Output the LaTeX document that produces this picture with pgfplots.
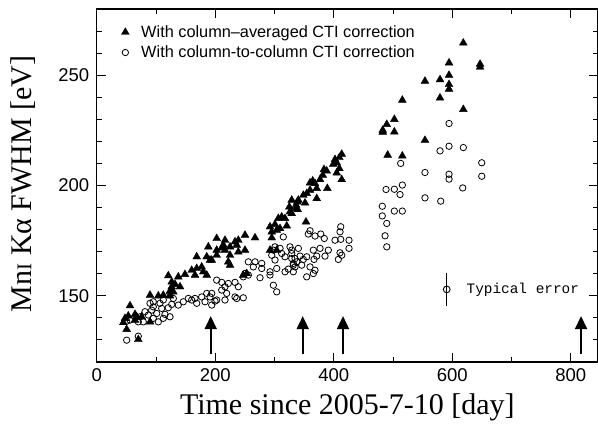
\documentclass[border=0pt]{standalone}
\usepackage{pgfplots}
\pgfplotsset{compat=1.18}
\usepackage{pgfplotstable}
\usetikzlibrary{calc,arrows.meta}
\usepackage{fontspec}
\setmainfont{Liberation Serif}
\newfontfamily\arial{Liberation Sans}
\newfontfamily\mono{Liberation Mono}

\pgfplotstableread{
x y
44.9 137.9
47.8 139.8
50.6 134.8
53.3 140.9
56.2 145.5
64.6 141.6
64.6 139.0
67.5 140.5
70.2 130.2
75.9 140.5
90.0 138.2
90.0 150.3
104.0 150.0
112.4 150.3
120.8 159.1
123.7 150.0
123.7 152.1
126.6 154.1
126.6 156.3
129.3 151.8
132.2 155.2
137.7 158.6
140.6 154.1
149.0 159.7
160.3 161.6
165.9 159.4
168.8 162.4
168.8 167.7
177.2 163.1
179.9 160.9
185.7 159.4
185.7 167.7
188.4 172.2
191.2 166.2
194.1 166.2
202.5 176.0
202.5 170.7
202.5 168.4
211.0 171.7
213.7 173.0
216.5 175.2
216.5 170.7
222.1 165.4
225.0 168.4
225.0 172.2
225.0 163.9
233.4 174.5
236.3 173.0
239.0 175.2
239.0 169.9
247.4 159.4
250.3 177.5
250.3 170.7
253.2 160.1
267.2 176.3
292.5 170.7
292.5 181.3
295.4 176.3
295.4 179.0
300.9 182.4
303.8 170.7
303.8 179.8
306.5 185.1
309.4 180.5
312.2 185.8
317.8 185.1
320.7 181.7
325.1 190.3
326.2 188.1
329.1 187.3
329.1 193.4
336.4 189.6
336.4 191.1
338.6 192.6
339.2 189.1
340.3 193.4
348.7 195.6
351.6 192.1
353.2 183.5
354.4 196.4
360.0 197.9
360.0 201.2
364.6 202.1
368.4 200.9
371.3 198.7
371.3 194.1
376.9 202.7
381.4 204.7
383.6 207.3
388.2 206.6
389.2 198.7
399.3 209.7
402.2 211.8
405.1 210.3
405.1 205.7
409.5 212.7
409.5 207.7
413.5 214.2
413.5 202.7
482.7 225.1
482.7 224.2
489.5 227.7
491.1 213.8
502.3 230.0
502.3 224.3
515.8 238.7
515.8 213.4
554.0 247.3
554.0 220.5
579.4 248.0
579.4 239.7
594.6 255.6
594.6 250.0
594.6 245.8
594.6 243.7
618.7 264.6
618.7 234.5
647.0 255.0
647.0 253.7
}\tri

\pgfplotstableread{
x y
50.6 129.9
70.2 131.7
50.6 138.5
56.2 139.0
70.2 138.2
73.1 140.5
78.6 138.2
81.5 142.8
87.1 141.3
90.0 146.6
95.5 147.3
95.5 145.0
92.8 143.5
95.5 139.8
101.3 142.0
104.0 138.2
106.8 146.6
109.7 144.3
112.4 148.1
112.4 139.8
115.3 141.6
120.8 144.6
123.7 151.1
123.7 140.5
126.6 146.1
129.3 148.8
137.7 145.8
146.2 147.3
154.6 148.8
160.3 148.1
165.9 148.8
168.8 146.6
177.2 149.5
182.8 147.3
185.7 151.1
191.2 149.5
194.1 145.8
194.1 151.1
199.7 147.6
202.5 148.1
202.5 157.1
211.0 156.1
211.0 152.6
216.5 154.1
216.5 148.1
219.4 151.1
222.1 155.6
233.4 156.1
233.4 149.5
236.3 148.8
239.0 154.1
247.4 149.1
247.4 158.6
250.3 160.1
255.9 159.4
255.9 165.4
264.3 163.1
267.2 165.4
275.6 158.2
278.5 164.7
278.5 162.4
292.5 160.9
292.5 159.4
295.4 168.4
298.1 170.7
298.1 154.8
300.9 172.2
300.9 166.2
303.8 162.4
303.8 151.8
309.4 171.5
312.2 169.2
314.9 176.7
317.8 167.7
317.8 160.9
323.4 162.1
326.2 172.2
329.1 169.2
329.1 170.7
329.1 166.9
331.8 164.7
331.8 160.9
331.8 163.9
334.7 166.9
334.7 163.1
337.6 165.4
340.3 171.5
343.1 168.0
346.0 163.9
348.7 166.5
354.4 167.7
354.4 158.6
357.1 178.0
360.0 179.5
360.0 163.1
365.6 170.7
365.6 160.1
366.8 166.5
368.4 177.1
368.4 161.6
371.3 168.0
376.9 171.5
378.1 178.0
384.1 176.0
385.3 168.0
390.9 170.7
402.2 175.2
407.8 166.5
410.6 179.0
410.6 169.5
411.8 181.3
411.8 175.6
413.5 168.4
425.8 175.2
425.8 171.5
482.0 190.6
482.0 186.2
486.6 177.2
488.3 198.2
489.5 182.8
489.5 172.2
502.3 198.3
502.3 188.4
511.9 195.9
513.0 210.0
515.8 200.2
515.8 188.4
554.0 205.9
554.0 194.4
579.4 215.7
580.6 192.9
594.6 228.1
594.6 217.8
594.6 205.1
594.6 202.9
617.7 198.9
618.7 217.2
649.8 210.3
649.8 204.2
}\circ

\begin{document}
\begin{tikzpicture}
\begin{axis}[
  at={(0,0)}, anchor=south west,
  width=501.3pt, height=353pt, scale only axis,
  xmin=0, xmax=846, ymin=120, ymax=280,
  xtick={0,200,400,600,800}, minor xtick={100,300,500,700},
  ytick={150,200,250}, minor ytick={130,140,160,170,180,190,210,220,230,240,260,270},
  tick align=inside, major tick length=9pt, minor tick length=5pt,
  tick style={line width=0.9pt, black},
  axis line style={line width=1.1pt},
  /pgf/number format/assume math mode=true,
  ticklabel style={font=\arial\fontsize{18.5}{20}\selectfont},
  yticklabel style={xshift=-4pt},
  xticklabel style={yshift=-3pt},
  xlabel={Time since 2005-7-10 [day]},
  ylabel={Mn{\fontsize{21}{24}\selectfont I} Kα FWHM [eV]},
  label style={font=\fontsize{30}{34}\selectfont},
  xlabel style={at={(axis description cs:0.5,-0.150)}, anchor=base},
  ylabel style={at={(axis description cs:-0.147,0.505)}, anchor=center},
  legend style={draw=none, fill=none, at={(0.043,0.965)}, anchor=north west,
    font=\arial\fontsize{16.3}{18}\selectfont, row sep=3pt},
  legend cell align=left,
]
\addplot[only marks, mark=triangle*, mark size=4.5pt, black, mark options={fill=black}] table {\tri};
\addlegendentry{\hspace*{10pt}With column{\arial\char"2013}averaged CTI correction}
\addplot[only marks, mark=o, mark size=3.2pt, black, mark options={line width=0.8pt}] table {\circ};
\addlegendentry{\hspace*{10pt}With column-to-column CTI correction}
% typical error
\addplot[only marks, mark=o, mark size=3.4pt, black, mark options={line width=0.9pt},
  error bars/.cd, y dir=both, y explicit, error mark=none,
  error bar style={line width=1pt, black}] coordinates {(590.7,152.9) +- (0,7.3)};
\node[anchor=west, font=\mono\fontsize{14.4}{16}\selectfont, inner sep=0pt] at (axis cs:624,152.9) {Typical error};
% arrows
\addplot[line width=1.8pt, black, -{Triangle[width=12pt,length=13pt]}] coordinates {(192.4,123.6) (192.4,140.8)};
\addplot[line width=1.8pt, black, -{Triangle[width=12pt,length=13pt]}] coordinates {(347.7,123.6) (347.7,140.8)};
\addplot[line width=1.8pt, black, -{Triangle[width=12pt,length=13pt]}] coordinates {(415.7,123.6) (415.7,140.8)};
\addplot[line width=1.8pt, black, -{Triangle[width=12pt,length=13pt]}] coordinates {(817.4,123.6) (817.4,140.8)};
\end{axis}
\node[anchor=base west, font=\fontsize{30}{34}\selectfont, inner sep=0pt] at (-94pt,375pt) {(c)};
\pgfresetboundingbox
\path[use as bounding box] (-96.7pt,-67pt) rectangle (501.3pt,362pt);
\end{tikzpicture}
\end{document}
